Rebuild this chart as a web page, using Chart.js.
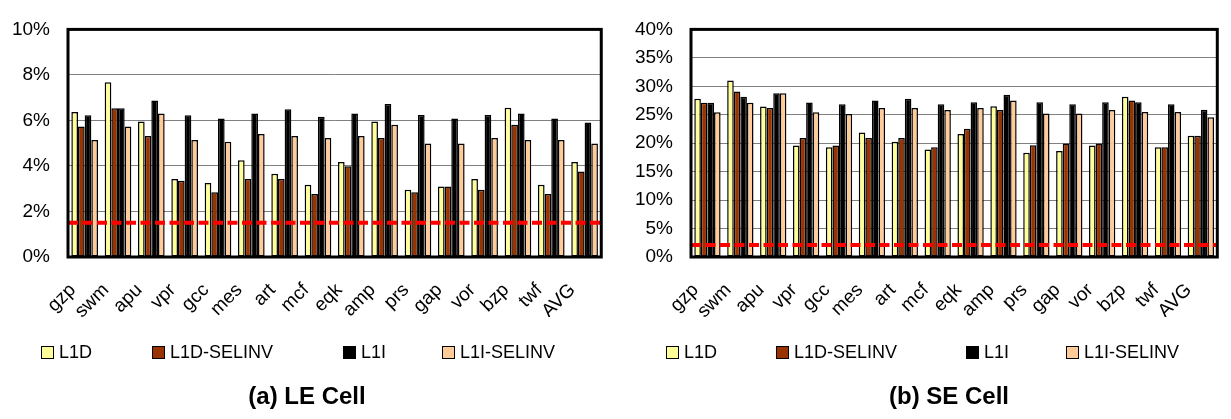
<!DOCTYPE html>
<html><head><meta charset="utf-8">
<script src="https://cdn.jsdelivr.net/npm/chart.js@4.4.1/dist/chart.umd.min.js"></script>
<style>
html,body{margin:0;padding:0;background:#fff;}
body{width:1231px;height:419px;position:relative;overflow:hidden;font-family:'Liberation Sans',Arial,sans-serif;}
.panel{position:absolute;top:0;height:419px;}
.panel canvas{position:absolute;left:0;top:0;}
.legend-item{position:absolute;top:342px;height:20px;display:flex;align-items:center;font-size:18px;color:#000;white-space:nowrap;}
.legend-box{width:11px;height:11px;border:1.5px solid #000;margin-right:5px;flex:none;}
.title{position:absolute;top:382px;font-weight:bold;font-size:24px;transform:translateX(-50%);white-space:nowrap;color:#000;}
</style></head>
<body>
<div class="panel" id="p1" style="left:0;width:615px"><canvas id="c1" width="615" height="419"></canvas></div>
<div class="panel" id="p2" style="left:615px;width:616px"><canvas id="c2" width="616" height="419"></canvas></div>
<script>
// ---- data ----
const categories = ['gzp','swm','apu','vpr','gcc','mes','art','mcf','eqk','amp','prs','gap','vor','bzp','twf','AVG'];
const seriesNames = ['L1D','L1D-SELINV','L1I','L1I-SELINV'];
const seriesColors = ['#FFFF99','#993300','#000000','#FFCC99'];

// (a) LE Cell
const leL1D      = [6.37, 7.68, 5.95, 3.43, 3.25, 4.25, 3.66, 3.17, 4.17, 5.95, 2.95, 3.10, 3.43, 6.56, 3.17, 4.17];
const leL1DSel   = [5.73, 6.54, 5.32, 3.35, 2.85, 3.43, 3.43, 2.77, 3.99, 5.23, 2.85, 3.10, 2.95, 5.81, 2.77, 3.76];
const leL1I      = [6.23, 6.54, 6.88, 6.23, 6.08, 6.30, 6.49, 6.16, 6.31, 6.72, 6.24, 6.09, 6.24, 6.31, 6.09, 5.91];
const leL1ISel   = [5.14, 5.73, 6.30, 5.14, 5.06, 5.40, 5.32, 5.23, 5.32, 5.81, 4.99, 4.99, 5.23, 5.14, 5.14, 4.99];
const leThreshold = 1.5;
const leTicks = [0, 2, 4, 6, 8, 10];

// (b) SE Cell
const seL1D      = [27.8, 31.0, 26.45, 19.6, 19.3, 21.9, 20.25, 18.9, 21.6, 26.5, 18.3, 18.65, 19.6, 28.15, 19.3, 21.3];
const seL1DSel   = [27.1, 29.1, 26.2, 20.9, 19.6, 20.9, 20.9, 19.3, 22.55, 25.85, 19.65, 19.95, 19.95, 27.5, 19.3, 21.3];
const seL1I      = [27.1, 28.15, 28.8, 27.15, 26.85, 27.5, 27.8, 26.85, 27.2, 28.5, 27.2, 26.85, 27.2, 27.2, 26.85, 25.9];
const seL1ISel   = [25.45, 27.1, 28.8, 25.45, 25.15, 26.2, 26.2, 25.85, 26.2, 27.5, 25.2, 25.2, 25.85, 25.5, 25.5, 24.55];
const seThreshold = 2.1;
const seTicks = [0, 5, 10, 15, 20, 25, 30, 35, 40];

const titles = ['(a) LE Cell', '(b) SE Cell'];

// ---- rendering ----
const FONT = "'Liberation Sans', Arial, sans-serif";

// threshold line (through the y scale) + plot frame
const overlayPlugin = {
  id: 'overlay',
  afterDatasetsDraw(chart, args, opts) {
    const {ctx, chartArea: a} = chart;
    const yPix = chart.scales.y.getPixelForValue(opts.threshold);
    ctx.save();
    ctx.strokeStyle = '#FF0000';
    ctx.lineWidth = 4;
    ctx.setLineDash([10, 4.5]);
    ctx.beginPath();
    ctx.moveTo(a.left, yPix);
    ctx.lineTo(a.right, yPix);
    ctx.stroke();
    ctx.setLineDash([]);
    ctx.strokeStyle = '#000';
    ctx.lineWidth = 3;
    ctx.strokeRect(a.left, a.top, a.right - a.left, a.bottom - a.top);
    ctx.restore();
  }
};

function makeChart(canvasId, seriesList, ticksArr, threshold, padLeft, padRight) {
  const datasets = seriesList.map((vals, i) => ({
    label: seriesNames[i],
    data: vals,
    backgroundColor: seriesColors[i],
    borderColor: '#000',
    borderWidth: 1.5,
    borderSkipped: false
  }));
  const yMax = ticksArr[ticksArr.length - 1];
  const step = ticksArr[1] - ticksArr[0];
  return new Chart(document.getElementById(canvasId), {
    type: 'bar',
    data: {labels: categories, datasets},
    plugins: [overlayPlugin],
    options: {
      responsive: false,
      animation: false,
      devicePixelRatio: 1,
      categoryPercentage: 0.8,
      barPercentage: 1.0,
      layout: {padding: {left: padLeft, right: padRight, top: 14, bottom: 102}},
      plugins: {
        legend: {display: false}, tooltip: {enabled: false}, title: {display: false},
        overlay: {threshold}
      },
      scales: {
        x: {
          grid: {display: false},
          border: {display: false},
          ticks: {
            color: '#000', font: {family: FONT, size: 19},
            minRotation: 45, maxRotation: 45, autoSkip: false,
            padding: 14, labelOffset: -12
          },
          afterFit(s) { s.height = 60; }
        },
        y: {
          min: 0, max: yMax,
          grid: {color: '#808080', lineWidth: 1, drawTicks: false},
          border: {display: false},
          ticks: {
            stepSize: step, color: '#000', padding: 18,
            font: {family: FONT, size: 19},
            callback: v => v + '%'
          },
          afterFit(s) { s.width = 58; }
        }
      }
    }
  });
}

makeChart('c1', [leL1D, leL1DSel, leL1I, leL1ISel], leTicks, leThreshold, 10, 9);
makeChart('c2', [seL1D, seL1DSel, seL1I, seL1ISel], seTicks, seThreshold, 18, 1);

// HTML legends and captions
function addLegend(panelId, lefts, titleText, titleCenter) {
  const p = document.getElementById(panelId);
  seriesNames.forEach((name, i) => {
    const it = document.createElement('div');
    it.className = 'legend-item';
    it.style.left = lefts[i] + 'px';
    const b = document.createElement('span');
    b.className = 'legend-box';
    b.style.background = seriesColors[i];
    it.appendChild(b);
    it.appendChild(document.createTextNode(name));
    p.appendChild(it);
  });
  const t = document.createElement('div');
  t.className = 'title';
  t.style.left = titleCenter + 'px';
  t.textContent = titleText;
  p.appendChild(t);
}
addLegend('p1', [41, 152, 343, 442], titles[0], 307);
addLegend('p2', [51, 161, 351, 451], titles[1], 334);
</script>
</body></html>
